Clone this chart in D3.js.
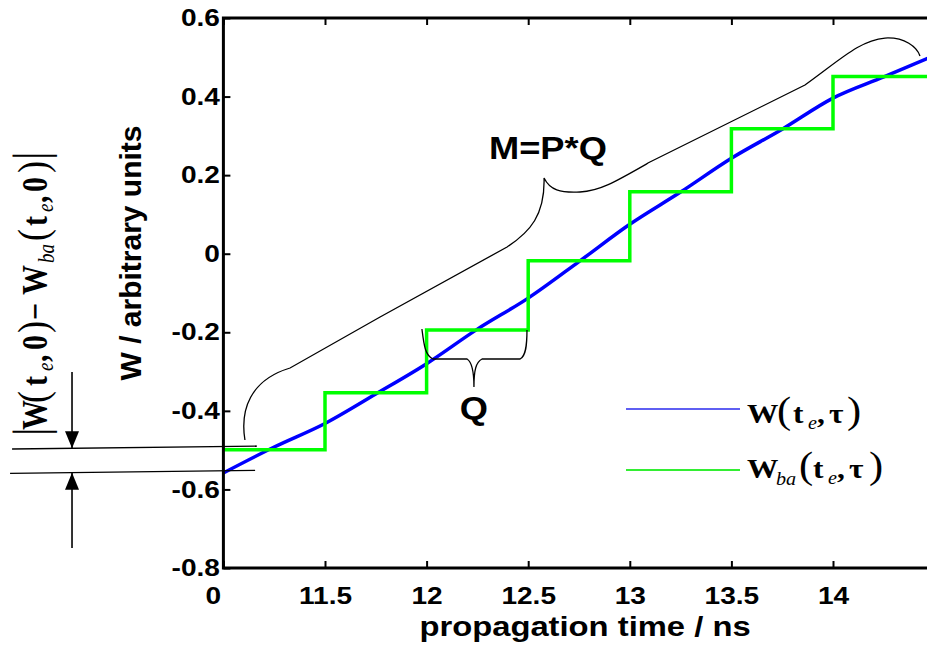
<!DOCTYPE html>
<html><head><meta charset="utf-8">
<script src="https://cdn.jsdelivr.net/npm/d3@7"></script>
<style>body{margin:0;background:#fff;} svg{display:block;}</style>
</head><body>
<svg id="chart" width="927" height="648"></svg>
<script>
// ---------- data ----------
const xTickValues = [11, 11.5, 12, 12.5, 13, 13.5, 14];
const xTickLabels = ["0", "11.5", "12", "12.5", "13", "13.5", "14"];
const yTickValues = [0.6, 0.4, 0.2, 0, -0.2, -0.4, -0.6, -0.8];
const yTickLabels = ["0.6", "0.4", "0.2", "0", "-0.2", "-0.4", "-0.6", "-0.8"];

// W(te, tau) – continuous curve
const blueTimes  = [11.0, 11.25, 11.5, 11.75, 12.0, 12.25, 12.5, 12.75, 13.0, 13.25, 13.5, 13.75, 14.0, 14.25, 14.5];
const blueValues = [-0.558, -0.492, -0.432, -0.357, -0.28, -0.192, -0.113, -0.02, 0.075, 0.157, 0.243, 0.317, 0.396, 0.45, 0.505];

// Wba(te, tau) – staircase
const stepTimes  = [11.0, 11.5, 12.0, 12.5, 13.0, 13.5, 14.0, 14.5];
const stepValues = [-0.499, -0.354, -0.194, -0.018, 0.158, 0.318, 0.451, 0.451];

// annotation geometry (data units: [time, W])
const bigBrace = [
  ["M", 11.106, -0.4742],
  ["C", 11.082, -0.398, 11.131, -0.3215, 11.328, -0.2909],
  ["L", 11.771, -0.1611],
  ["L", 12.396, 0.0171],
  ["C", 12.509, 0.0552, 12.583, 0.0985, 12.578, 0.1927],
  ["C", 12.607, 0.1621, 12.657, 0.1545, 12.755, 0.1571],
  ["C", 12.853, 0.1596, 12.927, 0.1825, 13.099, 0.2334],
  ["L", 13.862, 0.4294],
  ["C", 14.034, 0.4931, 14.133, 0.544, 14.256, 0.549],
  ["C", 14.354, 0.5516, 14.413, 0.5261, 14.428, 0.5032]
];
const qBrace = [
  ["M", 11.977, -0.1917],
  ["C", 11.987, -0.2324, 11.992, -0.2579, 12.031, -0.268],
  ["L", 12.199, -0.268],
  ["C", 12.223, -0.2757, 12.233, -0.2961, 12.233, -0.3393],
  ["C", 12.233, -0.2961, 12.243, -0.2757, 12.273, -0.268],
  ["L", 12.46, -0.268],
  ["C", 12.489, -0.2604, 12.494, -0.2324, 12.494, -0.1942]
];
const refLines = [
  [[9.960, -0.4971], [11.164, -0.4895]],
  [[9.950, -0.5593], [11.156, -0.5517]]
];
const arrowTime = 10.255;
const arrows = [ {from: -0.3011, to: -0.4952}, {from: -0.7491, to: -0.5575} ];
const textMPQ = {t: 12.597, v: 0.241, label: "M=P*Q"};
const textQ   = {t: 12.233, v: -0.4207, label: "Q"};

// ---------- setup ----------
const svg = d3.select("#chart");
const W = 927, H = 648;
const pLeft = 223.4, pTop = 18, pBottom = 568;
const x = d3.scaleLinear().domain([11, 14.5]).range([pLeft, pLeft + 3.5 * 203.2]);
const y = d3.scaleLinear().domain([-0.8, 0.6]).range([pBottom, pTop]);
const SANS = "'Liberation Sans', Arial, Helvetica, sans-serif";
const SERIF = "'Liberation Serif', 'Times New Roman', serif";
const SX = 1.17;

svg.append("rect").attr("width", W).attr("height", H).attr("fill", "#fff");

function cmdPath(cmds) {
  return cmds.map(c => {
    const k = c[0], p = c.slice(1);
    const pts = [];
    for (let i = 0; i < p.length; i += 2) pts.push(x(p[i]).toFixed(2) + "," + y(p[i + 1]).toFixed(2));
    return k + pts.join(" ");
  }).join(" ");
}

// ---------- data series ----------
const clipId = "plotclip";
svg.append("clipPath").attr("id", clipId).append("rect")
  .attr("x", pLeft).attr("y", pTop).attr("width", x(14.5) - pLeft).attr("height", pBottom - pTop);

const plot = svg.append("g").attr("clip-path", `url(#${clipId})`);

const blueLine = d3.line().x(d => x(d[0])).y(d => y(d[1])).curve(d3.curveMonotoneX);
plot.append("path")
  .datum(blueTimes.map((t, i) => [t, blueValues[i]]))
  .attr("d", blueLine).attr("fill", "none").attr("stroke", "#0000ff").attr("stroke-width", 3.5);

const stepLine = d3.line().x(d => x(d[0])).y(d => y(d[1])).curve(d3.curveStepAfter);
plot.append("path")
  .datum(stepTimes.map((t, i) => [t, stepValues[i]]))
  .attr("d", stepLine).attr("fill", "none").attr("stroke", "#00ff00").attr("stroke-width", 3.5);

// ---------- annotations ----------
const ann = svg.append("g").attr("fill", "none").attr("stroke", "#000").attr("stroke-width", 1.3);
ann.append("path").attr("d", cmdPath(bigBrace));
ann.append("path").attr("d", cmdPath(qBrace));
refLines.forEach(l => ann.append("line")
  .attr("x1", x(l[0][0])).attr("y1", y(l[0][1])).attr("x2", x(l[1][0])).attr("y2", y(l[1][1])));
arrows.forEach(a => {
  const ax = x(arrowTime), y0 = y(a.from), y1 = y(a.to);
  const dir = y1 > y0 ? 1 : -1;
  ann.append("line").attr("x1", ax).attr("y1", y0).attr("x2", ax).attr("y2", y1).attr("stroke-width", 1.6);
  svg.append("path")
    .attr("d", `M${ax},${y1} L${ax - 7},${y1 - dir * 17} L${ax + 7},${y1 - dir * 17} Z`)
    .attr("fill", "#000");
});

[textMPQ, textQ].forEach(tx => {
  svg.append("text")
    .attr("transform", `translate(${x(tx.t)},${y(tx.v)}) scale(${SX},1)`)
    .attr("text-anchor", "middle").attr("font-family", SANS).attr("font-weight", "bold")
    .attr("font-size", 31).attr("fill", "#000").text(tx.label);
});

// ---------- axes ----------
const gL = svg.append("g").attr("transform", `translate(${pLeft},0)`)
  .call(d3.axisLeft(y).tickValues(yTickValues).tickFormat((d, i) => yTickLabels[i])
    .tickSizeInner(-7).tickSizeOuter(0).tickPadding(3));
const gB = svg.append("g").attr("transform", `translate(0,${pBottom})`)
  .call(d3.axisBottom(x).tickValues(xTickValues).tickFormat((d, i) => xTickLabels[i])
    .tickSizeInner(-7).tickSizeOuter(0).tickPadding(19));
const gT = svg.append("g").attr("transform", `translate(0,${pTop})`)
  .call(d3.axisTop(x).tickValues(xTickValues).tickFormat("")
    .tickSizeInner(-7).tickSizeOuter(0));
[gL, gB, gT].forEach(g => {
  g.select(".domain").remove();
  g.selectAll(".tick line").attr("stroke", "#000").attr("stroke-width", 2);
  g.selectAll(".tick text").attr("font-family", SANS).attr("font-weight", "bold")
    .attr("font-size", 24).attr("fill", "#000").attr("transform", `scale(${SX},1)`);
});
gB.selectAll(".tick text").filter((d, i) => i === 0).attr("dx", -9);

// frame
svg.append("rect").attr("x", pLeft).attr("y", pTop)
  .attr("width", x(14.5) - pLeft).attr("height", pBottom - pTop)
  .attr("fill", "none").attr("stroke", "#000").attr("stroke-width", 3);

// axis titles
svg.append("text")
  .attr("transform", `translate(585,636) scale(${SX},1)`)
  .attr("text-anchor", "middle").attr("font-family", SANS).attr("font-weight", "bold")
  .attr("font-size", 28).attr("fill", "#000").text("propagation time / ns");
svg.append("text")
  .attr("transform", `translate(141,253) rotate(-90)`)
  .attr("text-anchor", "middle").attr("font-family", SANS).attr("font-weight", "bold")
  .attr("font-size", 30).attr("fill", "#000").text("W / arbitrary units");

// ---------- glyph helper ----------
function glyphs(parent, list, sx, sy) {
  list.forEach(g => {
    parent.append("text")
      .attr("transform", `translate(${g.x},${g.dy || 0}) scale(${sx},${sy})`)
      .attr("font-family", SERIF)
      .attr("font-size", g.size)
      .attr("font-weight", g.w || "bold")
      .attr("font-style", g.it ? "italic" : "normal")
      .attr("fill", "#000")
      .text(g.s);
  });
}

// ---------- legend ----------
const legendItems = [
  {color: "#2a2aee", width: 1.5, ly: 409, base: 423,
   glyphs: [
     {s: "W", x: 747, size: 28}, {s: "(", x: 777, size: 38, w: "normal"},
     {s: "t", x: 793, size: 28}, {s: "e", x: 808, size: 18, it: true, w: "normal", dy: 6},
     {s: ",", x: 817, size: 28}, {s: "τ", x: 829, size: 28}, {s: ")", x: 847, size: 38, w: "normal"}]},
  {color: "#33ee33", width: 2, ly: 470, base: 478,
   glyphs: [
     {s: "W", x: 747, size: 28}, {s: "ba", x: 776, size: 18, it: true, w: "normal", dy: 7},
     {s: "(", x: 799, size: 38, w: "normal"},
     {s: "t", x: 813, size: 28}, {s: "e", x: 828, size: 18, it: true, w: "normal", dy: 6},
     {s: ",", x: 837, size: 28}, {s: "τ", x: 849, size: 28}, {s: ")", x: 869, size: 38, w: "normal"}]}
];
legendItems.forEach(it => {
  svg.append("line").attr("x1", 626).attr("x2", 740).attr("y1", it.ly).attr("y2", it.ly)
    .attr("stroke", it.color).attr("stroke-width", it.width);
  const g = svg.append("g").attr("transform", `translate(0,${it.base})`);
  glyphs(g, it.glyphs, 1.12, 1);
});

// ---------- rotated difference label ----------
const diffGlyphs = [
  {s: "|", x: -4, size: 42, w: "normal"},
  {s: "W", x: 2, size: 30}, {s: "(", x: 29, size: 36, w: "normal"},
  {s: "t", x: 46, size: 30}, {s: "e", x: 61, size: 19, it: true, w: "normal", dy: 6},
  {s: ",", x: 70, size: 30}, {s: "0", x: 82, size: 30}, {s: ")", x: 99, size: 36, w: "normal"},
  {s: "\u2212", x: 112, size: 30},
  {s: "W", x: 137, size: 30}, {s: "ba", x: 169, size: 19, it: true, w: "normal", dy: 7},
  {s: "(", x: 191, size: 36, w: "normal"},
  {s: "t", x: 206, size: 30}, {s: "e", x: 220, size: 19, it: true, w: "normal", dy: 6},
  {s: ",", x: 229, size: 30}, {s: "0", x: 240, size: 30}, {s: ")", x: 259, size: 36, w: "normal"},
  {s: "|", x: 272, size: 42, w: "normal"}
];
const rg = svg.append("g").attr("transform", "translate(47,432) rotate(-90)");
glyphs(rg, diffGlyphs, 1, 1.17);
</script>
</body></html>
